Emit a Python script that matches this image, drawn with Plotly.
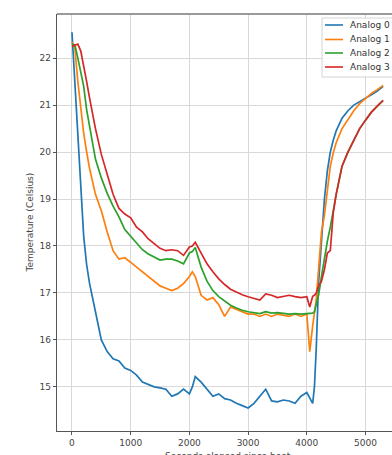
import plotly.graph_objects as go

# ---- data ----
seconds = [0, 50, 100, 150, 200, 250, 300, 400, 500, 600, 700, 800, 900, 1000,
           1100, 1200, 1300, 1400, 1500, 1600, 1700, 1800, 1900, 2000, 2050, 2100,
           2200, 2300, 2400, 2500, 2600, 2700, 2800, 2900, 3000, 3100, 3200, 3300,
           3400, 3500, 3600, 3700, 3800, 3900, 4000, 4050, 4100, 4130, 4160, 4200,
           4250, 4300, 4350, 4400, 4450, 4500, 4600, 4700, 4800, 4900, 5000, 5100,
           5200, 5300]

analog0 = [22.55, 21.5, 20.3, 19.2, 18.2, 17.6, 17.2, 16.6, 16.0, 15.75, 15.6, 15.55,
           15.4, 15.35, 15.25, 15.1, 15.05, 15.0, 14.98, 14.95, 14.8, 14.85, 14.95,
           14.85, 15.0, 15.22, 15.1, 14.95, 14.8, 14.85, 14.75, 14.72, 14.65, 14.6,
           14.55, 14.65, 14.8, 14.95, 14.7, 14.68, 14.72, 14.7, 14.65, 14.8, 14.88,
           14.75, 14.65, 15.0, 15.8, 17.2, 18.2, 19.0, 19.6, 20.0, 20.25, 20.45,
           20.72, 20.88, 21.0, 21.07, 21.15, 21.22, 21.3, 21.4]

analog1 = [22.35, 22.2, 21.5, 20.9, 20.4, 20.0, 19.65, 19.1, 18.75, 18.3, 17.9, 17.72,
           17.75, 17.65, 17.55, 17.45, 17.35, 17.25, 17.15, 17.1, 17.05, 17.1, 17.2,
           17.35, 17.45, 17.35, 16.95, 16.85, 16.9, 16.75, 16.5, 16.7, 16.65, 16.6,
           16.55, 16.55, 16.5, 16.55, 16.5, 16.55, 16.52, 16.5, 16.55, 16.5, 16.55,
           15.75, 16.3, 16.55, 16.85, 17.5, 18.3, 18.65, 19.2, 19.7, 19.98, 20.2,
           20.5, 20.7, 20.88, 21.03, 21.15, 21.25, 21.33, 21.42]

analog2 = [22.3, 22.28, 22.0, 21.7, 21.4, 20.9, 20.55, 19.85, 19.45, 19.12, 18.85, 18.62,
           18.35, 18.2, 18.05, 17.92, 17.83, 17.76, 17.7, 17.72, 17.72, 17.68, 17.62,
           17.85, 17.88, 17.97, 17.55, 17.25, 17.05, 16.92, 16.82, 16.74, 16.68, 16.63,
           16.6, 16.58, 16.56, 16.6, 16.57, 16.58, 16.56, 16.55, 16.56, 16.55, 16.56,
           16.57, 16.57, 16.6, 16.75, 16.95, 17.35, 17.75, 18.1, 18.4, 18.75, 19.1,
           19.7, 20.0, 20.25, 20.5, 20.68, 20.85, 20.98, 21.1]

analog3 = [22.25, 22.28, 22.3, 22.15, 21.85, 21.5, 21.15, 20.5, 19.95, 19.5, 19.1, 18.8,
           18.68, 18.6, 18.4, 18.3, 18.15, 18.05, 17.95, 17.9, 17.92, 17.9, 17.8,
           17.98, 18.0, 18.08, 17.85, 17.62, 17.45, 17.3, 17.18, 17.08, 17.02, 16.96,
           16.92, 16.88, 16.85, 16.98, 16.95, 16.9, 16.92, 16.95, 16.92, 16.9, 16.92,
           16.7, 16.93, 16.95, 17.0, 17.15, 17.25, 17.5, 17.85, 17.9, 18.7, 19.1,
           19.7, 20.0, 20.25, 20.5, 20.68, 20.85, 20.98, 21.1]

series_names = ["Analog 0", "Analog 1", "Analog 2", "Analog 3"]
series_values = [analog0, analog1, analog2, analog3]
colors = ["#1f77b4", "#ff7f0e", "#2ca02c", "#d62728"]

x_ticks = [0, 1000, 2000, 3000, 4000, 5000]
y_ticks = [15, 16, 17, 18, 19, 20, 21, 22]

# ---- layout geometry (pixels) ----
W, H = 392, 455
L, R, T, B = 57, 0, 14, 24
PW, PH = W - L - R, H - T - B


def fx(px):
    return (px - L) / PW


def fy(py):
    return (H - B - py) / PH


fig = go.Figure()
for name, vals, col in zip(series_names, series_values, colors):
    fig.add_trace(go.Scatter(x=seconds, y=vals, mode="lines", name=name,
                             line=dict(color=col, width=1.7), showlegend=False))

axis_common = dict(showgrid=True, gridcolor="#d9d9d9", gridwidth=1,
                   ticks="outside", ticklen=3, tickcolor="#555", tickwidth=1,
                   showline=True, linecolor="#555", linewidth=1.3,
                   zeroline=False, tickfont=dict(family="DejaVu Sans", size=9, color="#444"))

fig.update_xaxes(range=[-255, 5451], tickvals=x_ticks, **axis_common)
fig.update_yaxes(range=[14.06, 22.94], tickvals=y_ticks, **axis_common)

shapes = []
# top spine
shapes.append(dict(type="line", xref="paper", yref="paper", x0=0, x1=1.05, y0=1, y1=1,
                   line=dict(color="#777", width=1.3)))
# legend box
shapes.append(dict(type="rect", xref="paper", yref="paper", x0=fx(322), x1=fx(402),
                   y0=fy(77), y1=fy(18), line=dict(color="#d4d4d4", width=1),
                   fillcolor="rgba(255,255,255,0.85)"))
annotations = []
legend_y = [25, 39.5, 53, 67]
for name, col, py in zip(series_names, colors, legend_y):
    shapes.append(dict(type="line", xref="paper", yref="paper", x0=fx(325), x1=fx(343),
                       y0=fy(py), y1=fy(py), line=dict(color=col, width=1.6)))
    annotations.append(dict(xref="paper", yref="paper", x=fx(348), y=fy(py),
                            xanchor="left", yanchor="middle", text=name, showarrow=False,
                            font=dict(family="DejaVu Sans", size=9, color="#333")))

annotations.append(dict(xref="paper", yref="paper", x=fx(29), y=0.5, text="Temperature (Celsius)",
                        textangle=-90, showarrow=False, xanchor="center", yanchor="middle",
                        font=dict(family="DejaVu Sans", size=9, color="#444")))
annotations.append(dict(xref="paper", yref="paper", x=fx(228), y=fy(449),
                        text="Seconds elapsed since boot", showarrow=False,
                        xanchor="center", yanchor="top",
                        font=dict(family="DejaVu Sans", size=9, color="#444")))

fig.update_layout(width=W, height=H, margin=dict(l=L, r=R, t=T, b=B, pad=0),
                  plot_bgcolor="white", paper_bgcolor="white",
                  shapes=shapes, annotations=annotations, showlegend=False)

fig.write_html("out.html", config={"displayModeBar": False},
               post_script="document.body.style.margin='0';document.body.style.overflow='hidden';")
